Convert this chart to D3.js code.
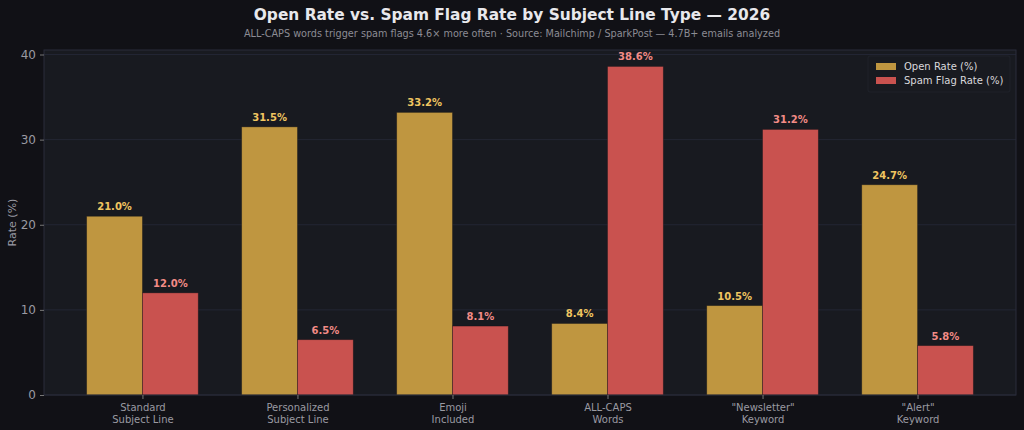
<!DOCTYPE html>
<html>
<head>
<meta charset="utf-8">
<script src="https://cdn.jsdelivr.net/npm/d3@7"></script>
<style>
  html, body { margin: 0; padding: 0; background: #111116; }
  svg { display: block; font-family: "DejaVu Sans", sans-serif; }
</style>
</head>
<body>
<div id="chart"></div>
<script>
const categories = ['Standard\nSubject Line', 'Personalized\nSubject Line', 'Emoji\nIncluded', 'ALL-CAPS\nWords', '"Newsletter"\nKeyword', '"Alert"\nKeyword'];
const openRate = [21.0, 31.5, 33.2, 8.4, 10.5, 24.7];
const spamRate = [12.0, 6.5, 8.1, 38.6, 31.2, 5.8];
const yTicks = [0, 10, 20, 30, 40];
const seriesNames = ['Open Rate (%)', 'Spam Flag Rate (%)'];

const width = 1024, height = 430;
const margin = { top: 50, bottom: 35, left: 44, right: 8 };
const plotW = width - margin.left - margin.right;
const plotH = height - margin.top - margin.bottom;

const barColors = ['#bf9640', '#c9524f'];
const labelColors = ['#f0c560', '#f28b86'];
const barW = 0.36;

// index axis, matplotlib-like 5% margins
const xScale = d3.scaleLinear().domain([-0.635, 5.635]).range([0, plotW]);
const yScale = d3.scaleLinear().domain([0, 40.53]).range([plotH, 0]);

const svg = d3.select('#chart').append('svg')
    .attr('width', width).attr('height', height);

svg.append('rect').attr('width', width).attr('height', height).attr('fill', '#111116');

svg.append('text')
    .attr('x', width / 2).attr('y', 20)
    .attr('text-anchor', 'middle')
    .attr('font-size', 15.4).attr('font-weight', 'bold')
    .attr('fill', '#e8e8ec')
    .text('Open Rate vs. Spam Flag Rate by Subject Line Type — 2026');

svg.append('text')
    .attr('x', width / 2).attr('y', 37)
    .attr('text-anchor', 'middle')
    .attr('font-size', 9.7)
    .attr('fill', '#8c8c94')
    .text('ALL-CAPS words trigger spam flags 4.6× more often · Source: Mailchimp / SparkPost — 4.7B+ emails analyzed');

const g = svg.append('g').attr('transform', 'translate(' + margin.left + ',' + margin.top + ')');

g.append('rect').attr('width', plotW).attr('height', plotH).attr('fill', '#181a20');

// grid
g.selectAll('.grid').data(yTicks).enter().append('line')
    .attr('class', 'grid')
    .attr('x1', 0).attr('x2', plotW)
    .attr('y1', d => yScale(d)).attr('y2', d => yScale(d))
    .attr('stroke', '#262838').attr('stroke-width', 0.8);

// bars
const series = [openRate, spamRate];
series.forEach((vals, si) => {
    const off = si === 0 ? -barW / 2 : barW / 2;
    g.selectAll('.bar' + si).data(vals).enter().append('rect')
        .attr('x', (d, i) => xScale(i + off - barW / 2))
        .attr('y', d => yScale(d))
        .attr('width', xScale(barW) - xScale(0))
        .attr('height', d => plotH - yScale(d))
        .attr('fill', barColors[si])
        .attr('stroke', '#111116').attr('stroke-opacity', 0.45).attr('stroke-width', 0.8);

    g.selectAll('.lbl' + si).data(vals).enter().append('text')
        .attr('x', (d, i) => xScale(i + off))
        .attr('y', d => yScale(d) - 6)
        .attr('text-anchor', 'middle')
        .attr('font-size', 10).attr('font-weight', 'bold')
        .attr('fill', labelColors[si])
        .text(d => d.toFixed(1) + '%');
});

// frame
g.append('rect').attr('width', plotW).attr('height', plotH)
    .attr('fill', 'none').attr('stroke', '#2a2c3a').attr('stroke-width', 1);

// y axis
const yAxis = g.append('g')
    .call(d3.axisLeft(yScale).tickValues(yTicks).tickSize(4).tickPadding(4));
yAxis.select('.domain').remove();
yAxis.selectAll('line').attr('stroke', '#777');
yAxis.selectAll('text').attr('fill', '#9a9aa2').attr('font-size', 12).attr('font-family', '"DejaVu Sans", sans-serif');

// x axis
const xAxis = g.append('g').attr('transform', 'translate(0,' + plotH + ')')
    .call(d3.axisBottom(xScale).tickValues(d3.range(categories.length)).tickSize(4).tickFormat(''));
xAxis.select('.domain').remove();
xAxis.selectAll('line').attr('stroke', '#777');
xAxis.selectAll('.tick').append('text')
    .attr('text-anchor', 'middle')
    .attr('fill', '#9a9aa2').attr('font-size', 10)
    .attr('font-family', '"DejaVu Sans", sans-serif')
    .each(function (d) {
        const lines = categories[d].split('\n');
        d3.select(this).selectAll('tspan').data(lines).enter().append('tspan')
            .attr('x', 0)
            .attr('y', (l, k) => 16 + k * 12)
            .text(l => l);
    });

svg.append('text')
    .attr('transform', 'translate(16,' + (margin.top + plotH / 2) + ') rotate(-90)')
    .attr('text-anchor', 'middle')
    .attr('font-size', 11).attr('fill', '#9a9aa2')
    .text('Rate (%)');

// legend
const leg = g.append('g').attr('transform', 'translate(' + (plotW - 148) + ',6)');
leg.append('rect').attr('width', 142).attr('height', 36).attr('rx', 2)
    .attr('fill', '#181a20').attr('stroke', '#2a2c3a').attr('stroke-opacity', 0.4);
seriesNames.forEach((name, i) => {
    leg.append('rect').attr('x', 8).attr('y', 7 + i * 14).attr('width', 20).attr('height', 7)
        .attr('fill', barColors[i]);
    leg.append('text').attr('x', 36).attr('y', 14 + i * 14)
        .attr('font-size', 10).attr('fill', '#d8d8dc')
        .text(name);
});
</script>
</body>
</html>
